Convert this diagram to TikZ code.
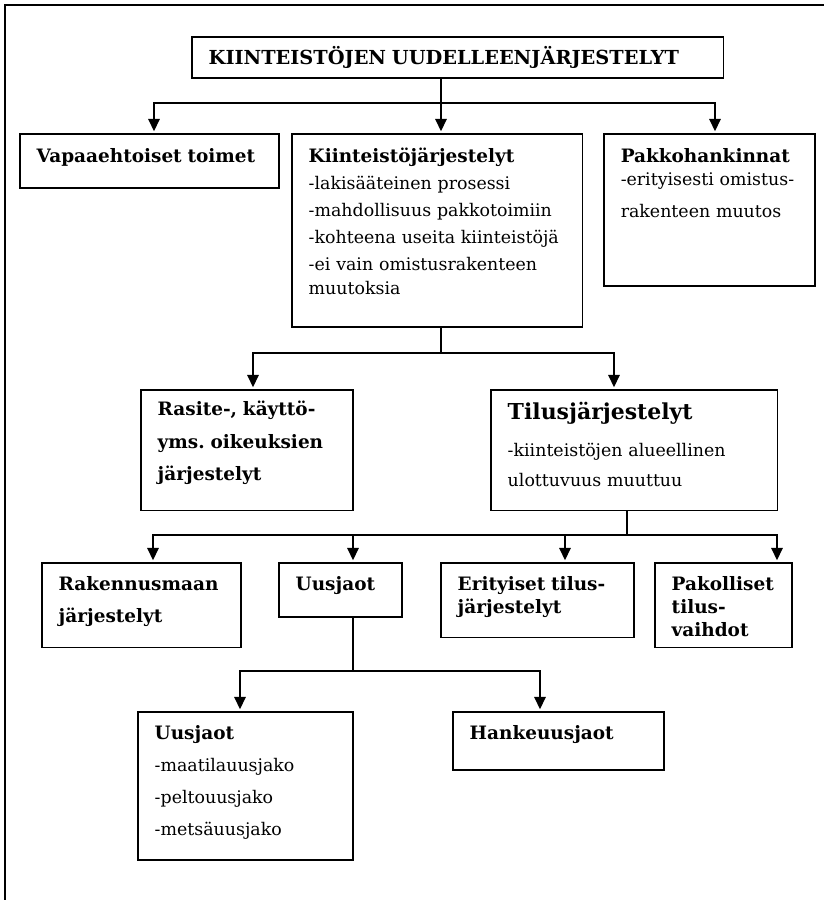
\documentclass[tikz,border=0pt]{standalone}
\usepackage{fontspec}
\setmainfont{DejaVu Serif}
\usepackage{tikz}
\usetikzlibrary{arrows.meta}

\newcommand{\boxhead}{\fontsize{10.5}{13}\selectfont\bfseries}

\begin{document}
\begin{tikzpicture}[x=0.02cm, y=-0.02cm,
		box_style/.style={draw=black, line width=1pt, anchor=north west, align=left,
			inner xsep=9.6pt, inner ysep=0pt, font=\fontsize{9.9}{13}\selectfont},
		edge_style/.style={draw=black, line width=0.85pt},
		arrow_style/.style={edge_style, -{Triangle[width=6.5pt,length=7pt]}, shorten >=1pt},
		frame_style/.style={draw=black, line width=1.1pt}]

		\useasboundingbox (0,0) rectangle (824,900);
		\draw[frame_style] (824,5) -- (5,5) -- (5,900);

		\node[box_style, text width=283.4pt, text height=15.9pt, text depth=7.4pt] (title) at (191,36)
			{\fontsize{11}{13}\selectfont\bfseries KIINTEISTÖJEN UUDELLEENJÄRJESTELYT};

		\node[box_style, text width=128.1pt, text height=16.4pt, text depth=14.2pt] (vapaa) at (19,133)
			{\boxhead Vapaaehtoiset toimet};
		\node[box_style, text width=146.2pt, text height=16.4pt, text depth=93.5pt] (kiint) at (291,133)
			{{\boxhead Kiinteistöjärjestelyt}\\[2.3pt]
			-lakisääteinen prosessi\\[2.3pt]
			-mahdollisuus pakkotoimiin\\[2.3pt]
			-kohteena useita kiinteistöjä\\[2.3pt]
			-ei vain omistusrakenteen\\[0.8pt]
			muutoksia};
		\node[box_style, text width=100.9pt, text height=16.4pt, text depth=70.3pt] (pakko) at (603,133)
			{{\boxhead Pakkohankinnat}\\
			\mbox{-erityisesti omistus-}\\[5.1pt]
			rakenteen muutos};

		\node[box_style, text width=101.5pt, text height=14.7pt, text depth=53.9pt] (rasite) at (140,389)
			{\boxhead Rasite-, käyttö-\\[5.4pt]
			yms.\ oikeuksien\\[5.4pt]
			järjestelyt};
		\node[box_style, text width=144pt, text height=17pt, text depth=51.6pt] (tilus) at (490,389)
			{{\fontsize{12.5}{15}\selectfont\bfseries Tilusjärjestelyt}\\[8pt]
			-kiinteistöjen alueellinen\\[4pt]
			ulottuvuus muuttuu};

		\node[box_style, text width=94.1pt, text height=15.9pt, text depth=32.3pt] (raken) at (41,562)
			{\boxhead Rakennusmaan\\[5.1pt]
			järjestelyt};
		\node[box_style, text width=51pt, text height=15.9pt, text depth=14.7pt] (uusjako) at (278,562)
			{\boxhead Uusjaot};
		\node[box_style, text width=90.7pt, text height=15.9pt, text depth=26.6pt] (erit) at (440,562)
			{\boxhead Erityiset tilus-\\
			järjestelyt};
		\node[box_style, text width=58.9pt, text height=15.9pt, text depth=32.3pt] (pakol) at (654,562)
			{\boxhead Pakolliset\\
			tilus-\\
			vaihdot};

		\node[box_style, text width=103.1pt, text height=15.9pt, text depth=68.6pt] (uusjaot) at (137,711)
			{{\boxhead Uusjaot}\\[5.1pt]
			-maatilauusjako\\[5.1pt]
			-peltouusjako\\[5.1pt]
			-metsäuusjako};
		\node[box_style, text width=100.9pt, text height=15.9pt, text depth=17pt] (hanke) at (452,711)
			{\boxhead Hankeuusjaot};

		% title -> first level
		\coordinate (b1) at (441,103);
		\coordinate (b1l) at (154,103);
		\coordinate (b1r) at (715,103);
		\draw[edge_style] (b1 |- title.south) -- (b1);
		\draw[arrow_style] (b1) -- (b1l) -- (b1l |- vapaa.north);
		\draw[arrow_style] (b1) -- (b1 |- kiint.north);
		\draw[arrow_style] (b1) -- (b1r) -- (b1r |- pakko.north);

		% kiinteistojarjestelyt -> second level
		\coordinate (b2) at (441,353);
		\coordinate (b2l) at (253,353);
		\coordinate (b2r) at (614,353);
		\draw[edge_style] (b2 |- kiint.south) -- (b2);
		\draw[arrow_style] (b2) -- (b2l) -- (b2l |- rasite.north);
		\draw[arrow_style] (b2) -- (b2r) -- (b2r |- tilus.north);

		% tilusjarjestelyt -> third level
		\coordinate (b3) at (627,535);
		\coordinate (b3a) at (153,535);
		\coordinate (b3b) at (353,535);
		\coordinate (b3c) at (565,535);
		\coordinate (b3d) at (777,535);
		\draw[edge_style] (b3 |- tilus.south) -- (b3);
		\draw[arrow_style] (b3) -- (b3a) -- (b3a |- raken.north);
		\draw[arrow_style] (b3b) -- (b3b |- uusjako.north);
		\draw[arrow_style] (b3c) -- (b3c |- erit.north);
		\draw[arrow_style] (b3) -- (b3d) -- (b3d |- pakol.north);

		% uusjaot -> fourth level
		\coordinate (b4) at (353,671);
		\coordinate (b4l) at (240,671);
		\coordinate (b4r) at (540,671);
		\draw[edge_style] (b4 |- uusjako.south) -- (b4);
		\draw[arrow_style] (b4) -- (b4l) -- (b4l |- uusjaot.north);
		\draw[arrow_style] (b4) -- (b4r) -- (b4r |- hanke.north);

\end{tikzpicture}
\end{document}
